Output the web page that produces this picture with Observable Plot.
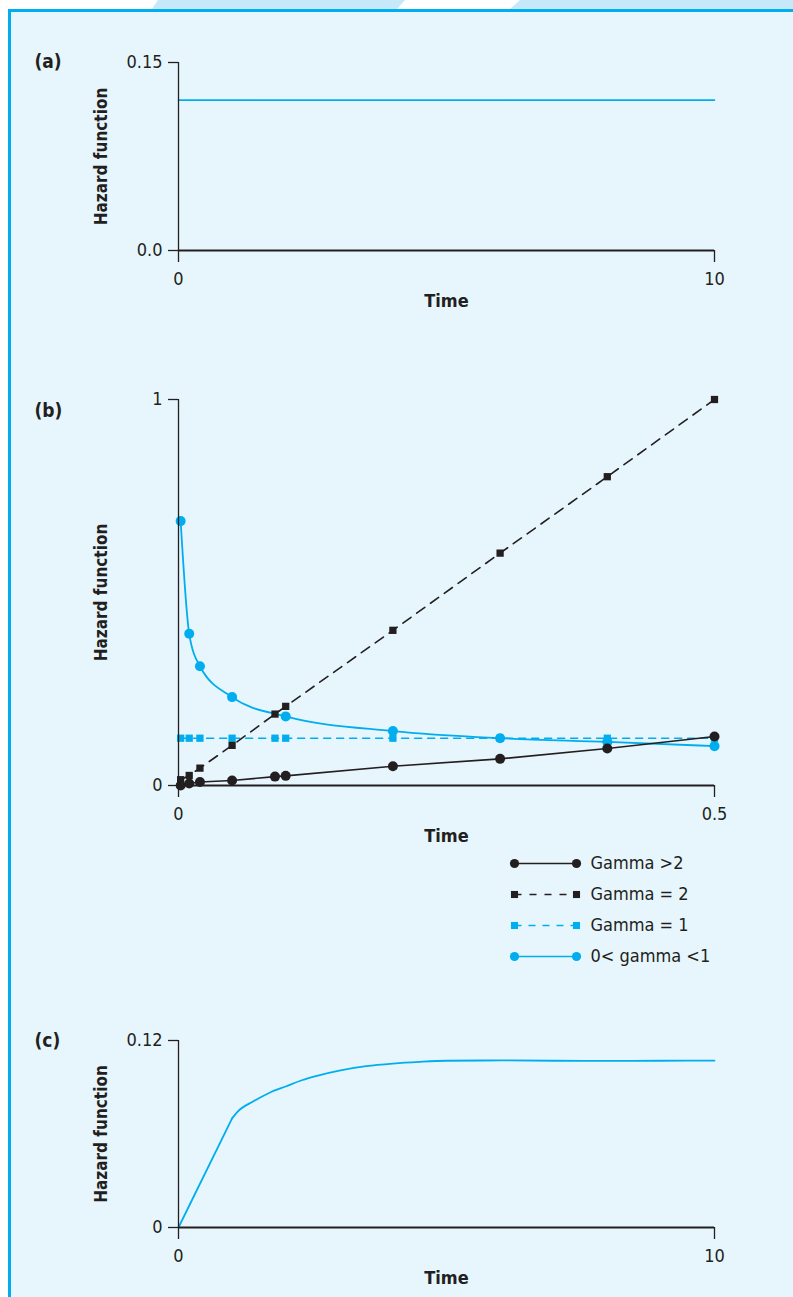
<!DOCTYPE html>
<html>
<head>
<meta charset="utf-8">
<script src="https://cdn.jsdelivr.net/npm/d3@7"></script>
<script src="https://cdn.jsdelivr.net/npm/@observablehq/plot@0.6"></script>
<style>
html,body{margin:0;padding:0;background:#ffffff;}
body{width:793px;height:1297px;position:relative;overflow:hidden;font-family:"DejaVu Sans Condensed","Open Sans",sans-serif;}
#deco{position:absolute;left:0;top:0;}
#box{position:absolute;left:8px;top:9px;width:820px;height:1320px;border:3px solid #00aeef;background:#e7f6fd;box-sizing:border-box;}
.panel{position:absolute;left:0;}
</style>
</head>
<body>
<svg id="deco" width="793" height="12"><polygon points="158,0 405,0 397,9 152,9" fill="#c5e9f8"/><polygon points="520,0 793,0 793,9 510,9" fill="#c5e9f8"/></svg>
<div id="box"></div>
<div id="pa" class="panel" style="top:30px"></div>
<div id="pb" class="panel" style="top:370px"></div>
<div id="pl" class="panel" style="top:845px"></div>
<div id="pc" class="panel" style="top:1010px"></div>
<script>
// ---------- data ----------
// panel (a)
const aTime = [0, 10];
const aHazard = [0.12, 0.12];
const aXTicks = [0, 10];
const aXTickLabels = ["0", "10"];
const aYTicks = [0, 0.15];
const aYTickLabels = ["0.0", "0.15"];

// panel (b)
const bTime = [0.002, 0.01, 0.02, 0.05, 0.09, 0.1, 0.2, 0.3, 0.4, 0.5];
const gammaAbove2 = [0, 0.005, 0.009, 0.013, 0.023, 0.025, 0.05, 0.069, 0.096, 0.127];
const gammaEq2 = [0.015, 0.026, 0.045, 0.104, 0.185, 0.205, 0.402, 0.602, 0.80, 1.0];
const gammaEq1 = [0.1225, 0.1225, 0.1225, 0.1225, 0.1225, 0.1225, 0.1225, 0.1225, 0.1225, 0.1225];
const gammaBelow1Time = [0.002, 0.01, 0.02, 0.05, 0.1, 0.2, 0.3, 0.4, 0.5];
const gammaBelow1 = [0.685, 0.393, 0.309, 0.229, 0.179, 0.141, 0.1226, 0.113, 0.102];
const bXTicks = [0, 0.5];
const bXTickLabels = ["0", "0.5"];
const bYTicks = [0, 1];
const bYTickLabels = ["0", "1"];

// legend
const legendLabels = ["Gamma >2", "Gamma = 2", "Gamma = 1", "0< gamma <1"];

// panel (c)
const cTime = [0, 1.0, 1.1, 1.4, 1.7, 2.0, 2.3, 2.6, 3.0, 3.5, 4.0, 4.5, 5.0, 6, 7, 8, 9, 10];
const cHazard = [0, 0.070, 0.0742, 0.081, 0.0865, 0.0905, 0.0945, 0.0975, 0.1007, 0.1035, 0.1052, 0.1063, 0.107, 0.1072, 0.1070, 0.1069, 0.1070, 0.1071];
const cXTicks = [0, 10];
const cXTickLabels = ["0", "10"];
const cYTicks = [0, 0.12];
const cYTickLabels = ["0", "0.12"];

// ---------- styling ----------
const INK = "#231f20";
const BLUE = "#00aeef";
const W = 793, ML = 178, MR = 79, MB = 70;
const FONT = '"DejaVu Sans Condensed", "Open Sans", sans-serif';
const baseStyle = {background: "none", fontFamily: FONT, fontSize: "18px", color: INK, overflow: "visible"};

const zip = (xs, ys) => xs.map((x, i) => ({x, y: ys[i]}));

function panel({mt, ih, xDomain, yDomain, xTicks, xLabels, yTicks, yLabels, label, labelDy, marks}) {
  return Plot.plot({
    width: W,
    height: mt + ih + MB,
    marginLeft: ML,
    marginRight: MR,
    marginTop: mt,
    marginBottom: MB,
    style: baseStyle,
    x: {domain: xDomain},
    y: {domain: yDomain},
    marks: [
      ...marks,
      Plot.ruleX([xDomain[0]], {stroke: INK, strokeWidth: 1.3}),
      Plot.ruleY([0], {stroke: INK, strokeWidth: 2.2}),
      Plot.axisX(xTicks, {tickSize: 12, tickPadding: 10, tickFormat: d => xLabels[xTicks.indexOf(d)], label: null, stroke: INK, strokeWidth: 1.3, fontSize: 18}),
      Plot.axisY(yTicks, {tickSize: 10, tickPadding: 6, tickFormat: d => yLabels[yTicks.indexOf(d)], label: null, stroke: INK, strokeWidth: 1.3, fontSize: 18}),
      Plot.text(["Time"], {text: d => d, frameAnchor: "bottom", dy: 56, fontWeight: "bold", fontSize: 18}),
      Plot.text(["Hazard function"], {text: d => d, frameAnchor: "left", dx: -77, rotate: -90, textAnchor: "middle", lineAnchor: "middle", fontWeight: "bold", fontSize: 17}),
      Plot.text([label], {text: d => d, frameAnchor: "top-left", dx: -144, dy: labelDy, textAnchor: "start", lineAnchor: "middle", fontWeight: "bold", fontSize: 19})
    ]
  });
}

// panel (a)
document.getElementById("pa").append(panel({
  mt: 32, ih: 188,
  xDomain: [0, 10], yDomain: [0, 0.15],
  xTicks: aXTicks, xLabels: aXTickLabels, yTicks: aYTicks, yLabels: aYTickLabels,
  label: "(a)", labelDy: -1,
  marks: [
    Plot.line(zip(aTime, aHazard), {x: "x", y: "y", stroke: BLUE, strokeWidth: 1.6})
  ]
}));

// panel (b)
const sAbove2 = zip(bTime, gammaAbove2);
const sEq2 = zip(bTime, gammaEq2);
const sEq1 = zip(bTime, gammaEq1);
const sBelow1 = zip(gammaBelow1Time, gammaBelow1);
document.getElementById("pb").append(panel({
  mt: 29, ih: 386,
  xDomain: [0, 0.5], yDomain: [0, 1],
  xTicks: bXTicks, xLabels: bXTickLabels, yTicks: bYTicks, yLabels: bYTickLabels,
  label: "(b)", labelDy: 11,
  marks: [
    Plot.line(sEq1, {x: "x", y: "y", stroke: BLUE, strokeWidth: 1.6, strokeDasharray: "7,6"}),
    Plot.dot(sEq1, {x: "x", y: "y", symbol: "square", r: 4.1, fill: BLUE}),
    Plot.line(sBelow1, {x: "x", y: "y", stroke: BLUE, strokeWidth: 1.8, curve: "monotone-x"}),
    Plot.dot(sBelow1, {x: "x", y: "y", symbol: "circle", r: 5, fill: BLUE}),
    Plot.line(sAbove2, {x: "x", y: "y", stroke: INK, strokeWidth: 1.6}),
    Plot.dot(sAbove2, {x: "x", y: "y", symbol: "circle", r: 5, fill: INK}),
    Plot.line(sEq2, {x: "x", y: "y", stroke: INK, strokeWidth: 1.6, strokeDasharray: "10,7"}),
    Plot.dot(sEq2, {x: "x", y: "y", symbol: "square", r: 4.1, fill: INK})
  ]
}));

// legend
const legendColor = [INK, INK, BLUE, BLUE];
const legendDash = [null, "7,8", "7,7", null];
const legendSymbol = ["circle", "square", "square", "circle"];
const legendMarks = [];
legendLabels.forEach((lab, i) => {
  legendMarks.push(Plot.link([lab], {x1: () => 0, x2: () => 1, y1: d => d, y2: d => d, stroke: legendColor[i], strokeWidth: 1.6, strokeDasharray: legendDash[i]}));
  legendMarks.push(Plot.dot([{x: 0, lab}, {x: 1, lab}], {x: "x", y: "lab", symbol: legendSymbol[i], r: legendSymbol[i] === "circle" ? 4.6 : 4, fill: legendColor[i]}));
});
legendMarks.push(Plot.text(legendLabels, {x: () => 1, y: d => d, text: d => d, dx: 14, textAnchor: "start", fontSize: 18}));
document.getElementById("pl").append(Plot.plot({
  width: W, height: 125,
  marginLeft: 514, marginRight: W - 576, marginTop: 17, marginBottom: 13,
  style: baseStyle,
  x: {domain: [0, 1], axis: null},
  y: {type: "point", domain: legendLabels, padding: 0, axis: null},
  marks: legendMarks
}));

// panel (c)
const sC = zip(cTime, cHazard);
document.getElementById("pc").append(panel({
  mt: 30, ih: 187,
  xDomain: [0, 10], yDomain: [0, 0.12],
  xTicks: cXTicks, xLabels: cXTickLabels, yTicks: cYTicks, yLabels: cYTickLabels,
  label: "(c)", labelDy: 0,
  marks: [
    Plot.line(sC.slice(0, 2), {x: "x", y: "y", stroke: BLUE, strokeWidth: 1.8}),
    Plot.line(sC.slice(1), {x: "x", y: "y", stroke: BLUE, strokeWidth: 1.8, curve: "monotone-x"})
  ]
}));
</script>
</body>
</html>
